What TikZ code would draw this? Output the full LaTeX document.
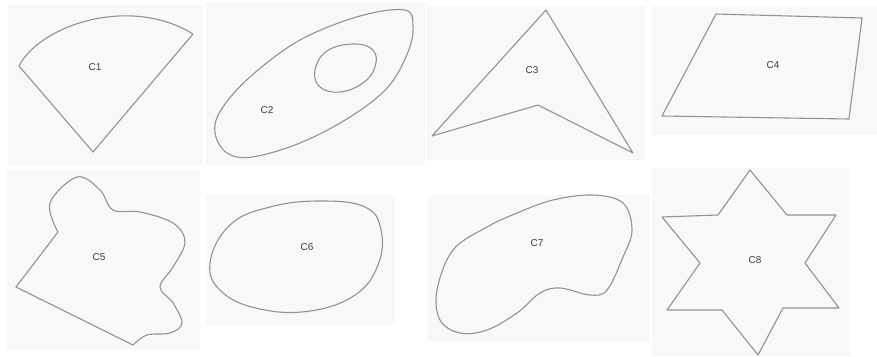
\documentclass[tikz,border=0pt]{standalone}
\usepackage{fontspec}
\setsansfont{Liberation Sans}
\begin{document}
\begin{tikzpicture}[x=1pt,y=-1pt,
  paper/.style={fill=paperc,draw=none},
  outline/.style={draw=linec,line width=1.1pt,line join=round},
  lbl/.style={font=\sffamily\fontsize{10}{10}\selectfont,text=textc,inner sep=0pt}]
\definecolor{paperc}{HTML}{F8F8F8}
\definecolor{linec}{HTML}{929292}
\definecolor{textc}{HTML}{3C3C3C}
\useasboundingbox[fill=white] (0,0) rectangle (877,356);
% paper patches
\fill[paper] (8,5) rectangle (203,165);
\fill[paper] (206,2) rectangle (425,165);
\fill[paper] (427,6) rectangle (645,160);
\fill[paper] (652,6) rectangle (877,135);
\fill[paper] (6,170) rectangle (200,350);
\fill[paper] (206,195) rectangle (395,325);
\fill[paper] (428,195) rectangle (650,342);
\fill[paper] (652,168) rectangle (850,356);
% C1
\draw[outline] (19,66) .. controls (40,25) and (130,-5) .. (193,34) -- (93,152) -- cycle;
\node[lbl] (c1) at (95,67) {C1};
% C2
\draw[outline] plot[smooth cycle,tension=0.6] coordinates {(405,10) (360,16) (300,40) (250,77) (221,110) (215,133) (227,153) (252,157) (300,143) (350,117) (388,87) (408,52) (413,26)};
\draw[outline] plot[smooth cycle,tension=0.7] coordinates {(315,70) (327,51) (353,44) (373,50) (375,67) (363,83) (340,92) (320,87)};
\node[lbl] (c2) at (267,110) {C2};
% C3
\draw[outline] (546,10) -- (633,153) -- (538,105) -- (432,136) -- cycle;
\node[lbl] (c3) at (532,70) {C3};
% C4
\draw[outline] (716,14) -- (862,18) -- (849,119) -- (662,116) -- cycle;
\node[lbl] (c4) at (773,65) {C4};
% C5
\draw[outline] (133,345) -- (16,287) -- (58,232)
  plot[smooth,tension=0.6] coordinates {(58,232) (50,203) (77,177) (100,190) (113,210) (140,212) (173,223) (185,242) (173,267) (160,287) (173,303) (182,323) (170,333) (147,335) (133,345)};
\node[lbl] (c5) at (99,257) {C5};
% C6
\draw[outline] plot[smooth cycle,tension=0.7] coordinates {(210,263) (230,225) (270,207) (320,201) (365,207) (381,230) (378,265) (355,295) (310,311) (260,309) (222,292)};
\node[lbl] (c6) at (307,247) {C6};
% C7
\draw[outline] plot[smooth cycle,tension=0.6] coordinates {(437,290) (453,250) (487,227) (517,213) (553,200) (593,195) (623,203) (632,230) (623,257) (607,290) (590,295) (560,288) (540,293) (517,313) (487,330) (460,333) (440,320)};
\node[lbl] (c7) at (537,243) {C7};
% C8
\draw[outline] (750,170) -- (787,215) -- (836,215) -- (805,263) -- (839,308) -- (783,308) -- (758,355) -- (722,310) -- (667,310) -- (700,263) -- (662,217) -- (718,215) -- cycle;
\node[lbl] (c8) at (755,260) {C8};
\end{tikzpicture}
\end{document}
